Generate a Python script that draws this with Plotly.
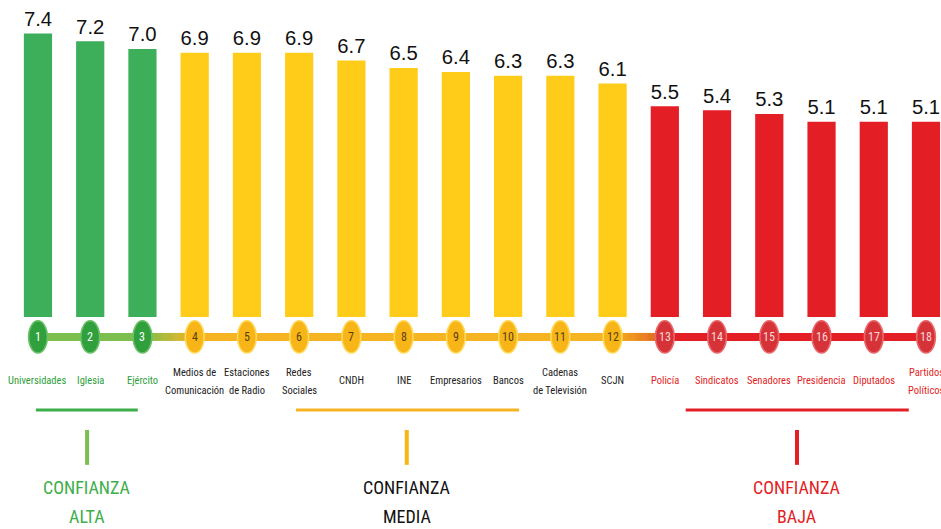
import plotly.graph_objects as go

# datos
instituciones = ["Universidades", "Iglesia", "Ejército", "Medios de|Comunicación", "Estaciones|de Radio",
                 "Redes|Sociales", "CNDH", "INE", "Empresarios", "Bancos", "Cadenas|de Televisión", "SCJN",
                 "Policía", "Sindicatos", "Senadores", "Presidencia", "Diputados", "Partidos|Políticos"]
calificacion = [7.4, 7.2, 7.0, 6.9, 6.9, 6.9, 6.7, 6.5, 6.4, 6.3, 6.3, 6.1, 5.5, 5.4, 5.3, 5.1, 5.1, 5.1]
grupo = ["alta"] * 3 + ["media"] * 9 + ["baja"] * 6
grupos = ["alta", "media", "baja"]
titulos = ["ALTA", "MEDIA", "BAJA"]

bar_col = {"alta": "#3DAE5A", "media": "#FFCC1A", "baja": "#E31E24"}
line_col = {"alta": "#7CBF4E", "media": "#F6B322", "baja": "#E31E24"}
circ_col = {"alta": "#2FA03C", "media": "#F7B518", "baja": "#D63339"}
circ_border = {"alta": "#6CC06A", "media": "#FFD95A", "baja": "#E8686C"}
num_col = {"alta": "#FFFFFF", "media": "#5A4210", "baja": "#FBD6D6"}
lab_col = {"alta": "#2E9E3A", "media": "#222222", "baja": "#E31E24"}
title_col = {"alta": "#3DAE49", "media": "#111111", "baja": "#E31E24"}

# llaves inferiores (posiciones en eje x)
llave = {"alta": (0.96, 2.91, 1.94), "media": (5.94, 10.21, 8.06), "baja": (13.40, 17.67, 15.53)}

narrow = "Roboto Condensed, Roboto, sans-serif"

x = list(range(1, len(instituciones) + 1))

fig = go.Figure()
fig.add_trace(go.Bar(
    x=x, y=calificacion, width=0.54,
    marker_color=[bar_col[g] for g in grupo], marker_line_width=0,
    text=[f"{v:.1f}" for v in calificacion], textposition="outside",
    textfont=dict(family="Liberation Sans, Arial", size=22, color="#111111"),
    cliponaxis=False, hoverinfo="skip"))

y_line = -0.52
shapes = []


def hex2rgb(h):
    return tuple(int(h[i:i + 2], 16) for i in (1, 3, 5))


# linea de conexion
for i in range(len(x) - 1):
    g0, g1 = grupo[i], grupo[i + 1]
    if g0 == g1:
        shapes.append(dict(type="line", x0=x[i], x1=x[i + 1], y0=y_line, y1=y_line,
                           line=dict(color=line_col[g0], width=8), layer="below"))
    else:
        c0, c1 = hex2rgb(line_col[g0]), hex2rgb(line_col[g1])
        if g1 == "baja":
            c1 = hex2rgb("#E0601E")
        n = 24
        for k in range(n):
            t = k / (n - 1)
            c = tuple(int(c0[j] + (c1[j] - c0[j]) * t) for j in range(3))
            xa = x[i] + (x[i + 1] - x[i]) * k / n
            xb = x[i] + (x[i + 1] - x[i]) * (k + 1) / n
            shapes.append(dict(type="line", x0=xa, x1=xb + 0.01, y0=y_line, y1=y_line,
                               line=dict(color="rgb(%d,%d,%d)" % c, width=8), layer="below"))

# circulos y etiquetas
annotations = []
for xi, g, name in zip(x, grupo, instituciones):
    shapes.append(dict(type="ellipse" if False else "circle", x0=xi - 0.18, x1=xi + 0.18,
                       y0=y_line - 0.42, y1=y_line + 0.42,
                       fillcolor=circ_col[g], line=dict(color=circ_border[g], width=1.5)))
    annotations.append(dict(x=xi, y=y_line, text=str(xi), showarrow=False,
                            font=dict(family=narrow, size=12, color=num_col[g])))
    partes = name.split("|")
    ys = [-1.67] if len(partes) == 1 else [-1.44, -1.91]
    for p, yy in zip(partes, ys):
        annotations.append(dict(x=xi, y=yy, text=p, showarrow=False,
                                font=dict(family=narrow, size=10.5, color=lab_col[g])))

# llaves y titulos
for g, t in zip(grupos, titulos):
    a, b, m = llave[g]
    shapes.append(dict(type="line", x0=a, x1=b, y0=-2.43, y1=-2.43,
                       line=dict(color=line_col[g] if g != "alta" else "#3DAE49", width=3)))
    shapes.append(dict(type="line", x0=m, x1=m, y0=-2.95, y1=-3.86,
                       line=dict(color=line_col[g] if g != "media" else "#F7B518", width=4)))
    annotations.append(dict(x=m, y=-4.46, text="CONFIANZA", showarrow=False,
                            font=dict(family=narrow, size=18, color=title_col[g])))
    annotations.append(dict(x=m, y=-5.22, text=t, showarrow=False,
                            font=dict(family=narrow, size=18, color=title_col[g])))

fig.update_layout(
    width=941, height=529,
    margin=dict(l=0, r=0, t=0, b=0),
    plot_bgcolor="white", paper_bgcolor="white",
    showlegend=False,
    shapes=shapes, annotations=annotations,
    xaxis=dict(range=[0.273, 18.287], visible=False, fixedrange=True),
    yaxis=dict(range=[-5.535, 8.277], visible=False, fixedrange=True),
)

fig.write_html("out.html", config={"displayModeBar": False},
               post_script="document.body.style.margin='0';")
